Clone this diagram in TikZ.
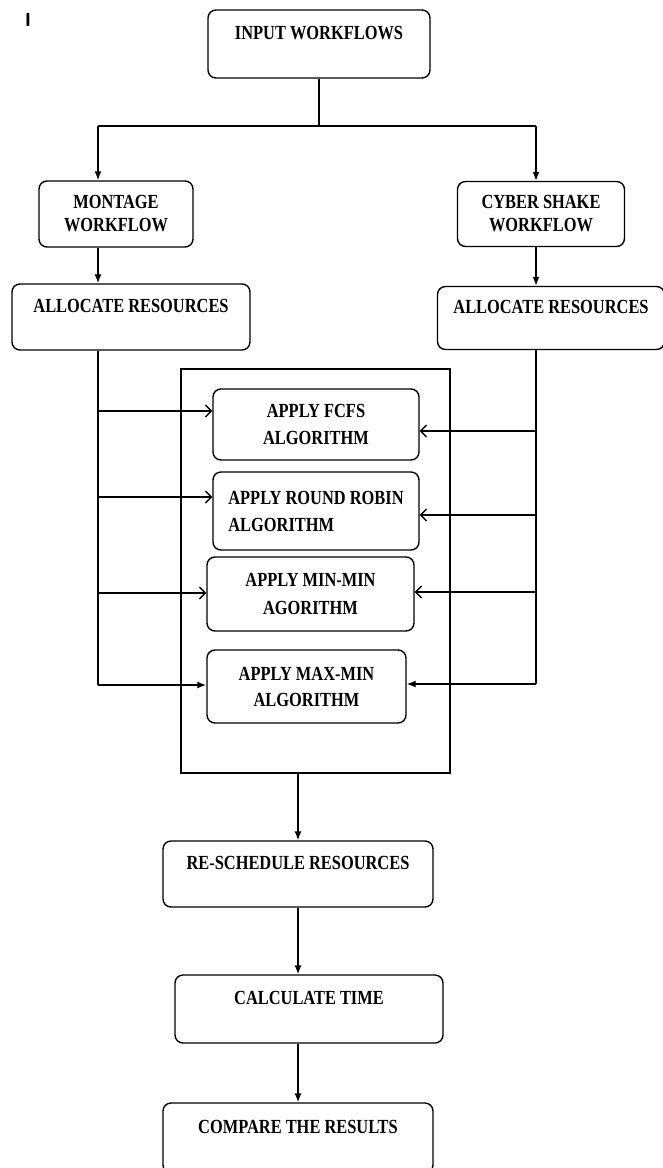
\documentclass[tikz,border=0pt]{standalone}
\usepackage{fontspec}
\setmainfont{Liberation Serif}[FakeStretch=0.82]
\usetikzlibrary{arrows.meta,positioning}

\begin{document}
\begin{tikzpicture}[x=1pt,y=-1pt,
    font=\fontsize{20}{23}\selectfont\bfseries,
    box/.style={draw, rounded corners=8pt, line width=1.4pt, align=center, inner sep=2pt},
    topbox/.style={box, text depth=22pt},
    wire/.style={line width=1.4pt},
    flow/.style={wire, -{Latex[length=9pt,width=7pt]}},
    barb/.style={wire, -{Straight Barb[length=6pt,width=12pt,line width=1.4pt]}}]
\useasboundingbox (0,0) rectangle (662,1168);

\node (mark) at (28,20) {\fontsize{19}{19}\selectfont\sffamily I};

% inputs
\node[topbox, minimum width=222pt, minimum height=68pt] (input) at (319,44) {INPUT WORKFLOWS};
\node[box, minimum width=154pt, minimum height=66pt] (montage) at (116,214) {MONTAGE\\WORKFLOW};
\node[box, minimum width=167pt, minimum height=65pt] (cyber) at (541,214) {CYBER SHAKE\\WORKFLOW};
\node[topbox, minimum width=238pt, minimum height=66pt] (allocl) at (131,317) {ALLOCATE RESOURCES};
\node[topbox, minimum width=227pt, minimum height=63pt] (allocr) at (551,318) {ALLOCATE RESOURCES};

% algorithms
\node[draw, line width=1.4pt, minimum width=269pt, minimum height=404pt] (frame) at (315.5,571) {};
\node[box, minimum width=206pt, minimum height=71pt] (fcfs) at (316,424.5) {APPLY FCFS\\[4pt]ALGORITHM};
\node[box, align=left, minimum width=206pt, minimum height=78pt] (rr) at (316,511) {APPLY ROUND ROBIN\\[4pt]ALGORITHM};
\node[box, minimum width=207pt, minimum height=74pt] (minmin) at (310.5,594) {APPLY MIN-MIN\\[5pt]AGORITHM};
\node[box, minimum width=199pt, minimum height=73pt] (maxmin) at (306.5,686.5) {APPLY MAX-MIN\\[3pt]ALGORITHM};

% outputs
\node[topbox, minimum width=270pt, minimum height=66pt] (resched) at (298,874) {RE-SCHEDULE RESOURCES};
\node[topbox, minimum width=268pt, minimum height=68pt] (calc) at (309,1009) {CALCULATE TIME};
\node[topbox, minimum width=270pt, minimum height=70pt] (compare) at (298,1138) {COMPARE THE RESULTS};

\coordinate (split) at (input.south |- 0,126);
\coordinate (jl) at (98,126);
\coordinate (jr) at (536,126);
\draw[wire] (input.south) -- (split);
\draw[wire] (jl) -- (jr);
\draw[flow] (jl) -- (jl |- montage.north);
\draw[flow] (jr) -- (jr |- cyber.north);
\draw[flow] (jl |- montage.south) -- (jl |- allocl.north);
\draw[flow] (jr |- cyber.south) -- (jr |- allocr.north);

% feeds from the left
\coordinate (l1) at (98,411);
\coordinate (l2) at (98,497);
\coordinate (l3) at (98,593);
\coordinate (l4) at (98,685);
\draw[wire] (jl |- allocl.south) -- (l4);
\draw[barb] (l1) -- (l1 -| fcfs.west);
\draw[barb] (l2) -- (l2 -| rr.west);
\draw[barb] (l3) -- (l3 -| minmin.west);
\draw[flow] (l4) -- (l4 -| maxmin.west);

% feeds from the right
\coordinate (r1) at (536,431);
\coordinate (r2) at (536,515);
\coordinate (r3) at (536,592);
\coordinate (r4) at (536,684);
\draw[wire] (jr |- allocr.south) -- (r4);
\draw[barb] (r1) -- (r1 -| fcfs.east);
\draw[barb] (r2) -- (r2 -| rr.east);
\draw[barb] (r3) -- (r3 -| minmin.east);
\draw[flow] (r4) -- (r4 -| maxmin.east);

\draw[flow] (frame.south -| resched.north) -- (resched.north);
\draw[flow] (resched.south) -- (resched.south |- calc.north);
\draw[flow] (resched.south |- calc.south) -- (compare.north);
\end{tikzpicture}
\end{document}
